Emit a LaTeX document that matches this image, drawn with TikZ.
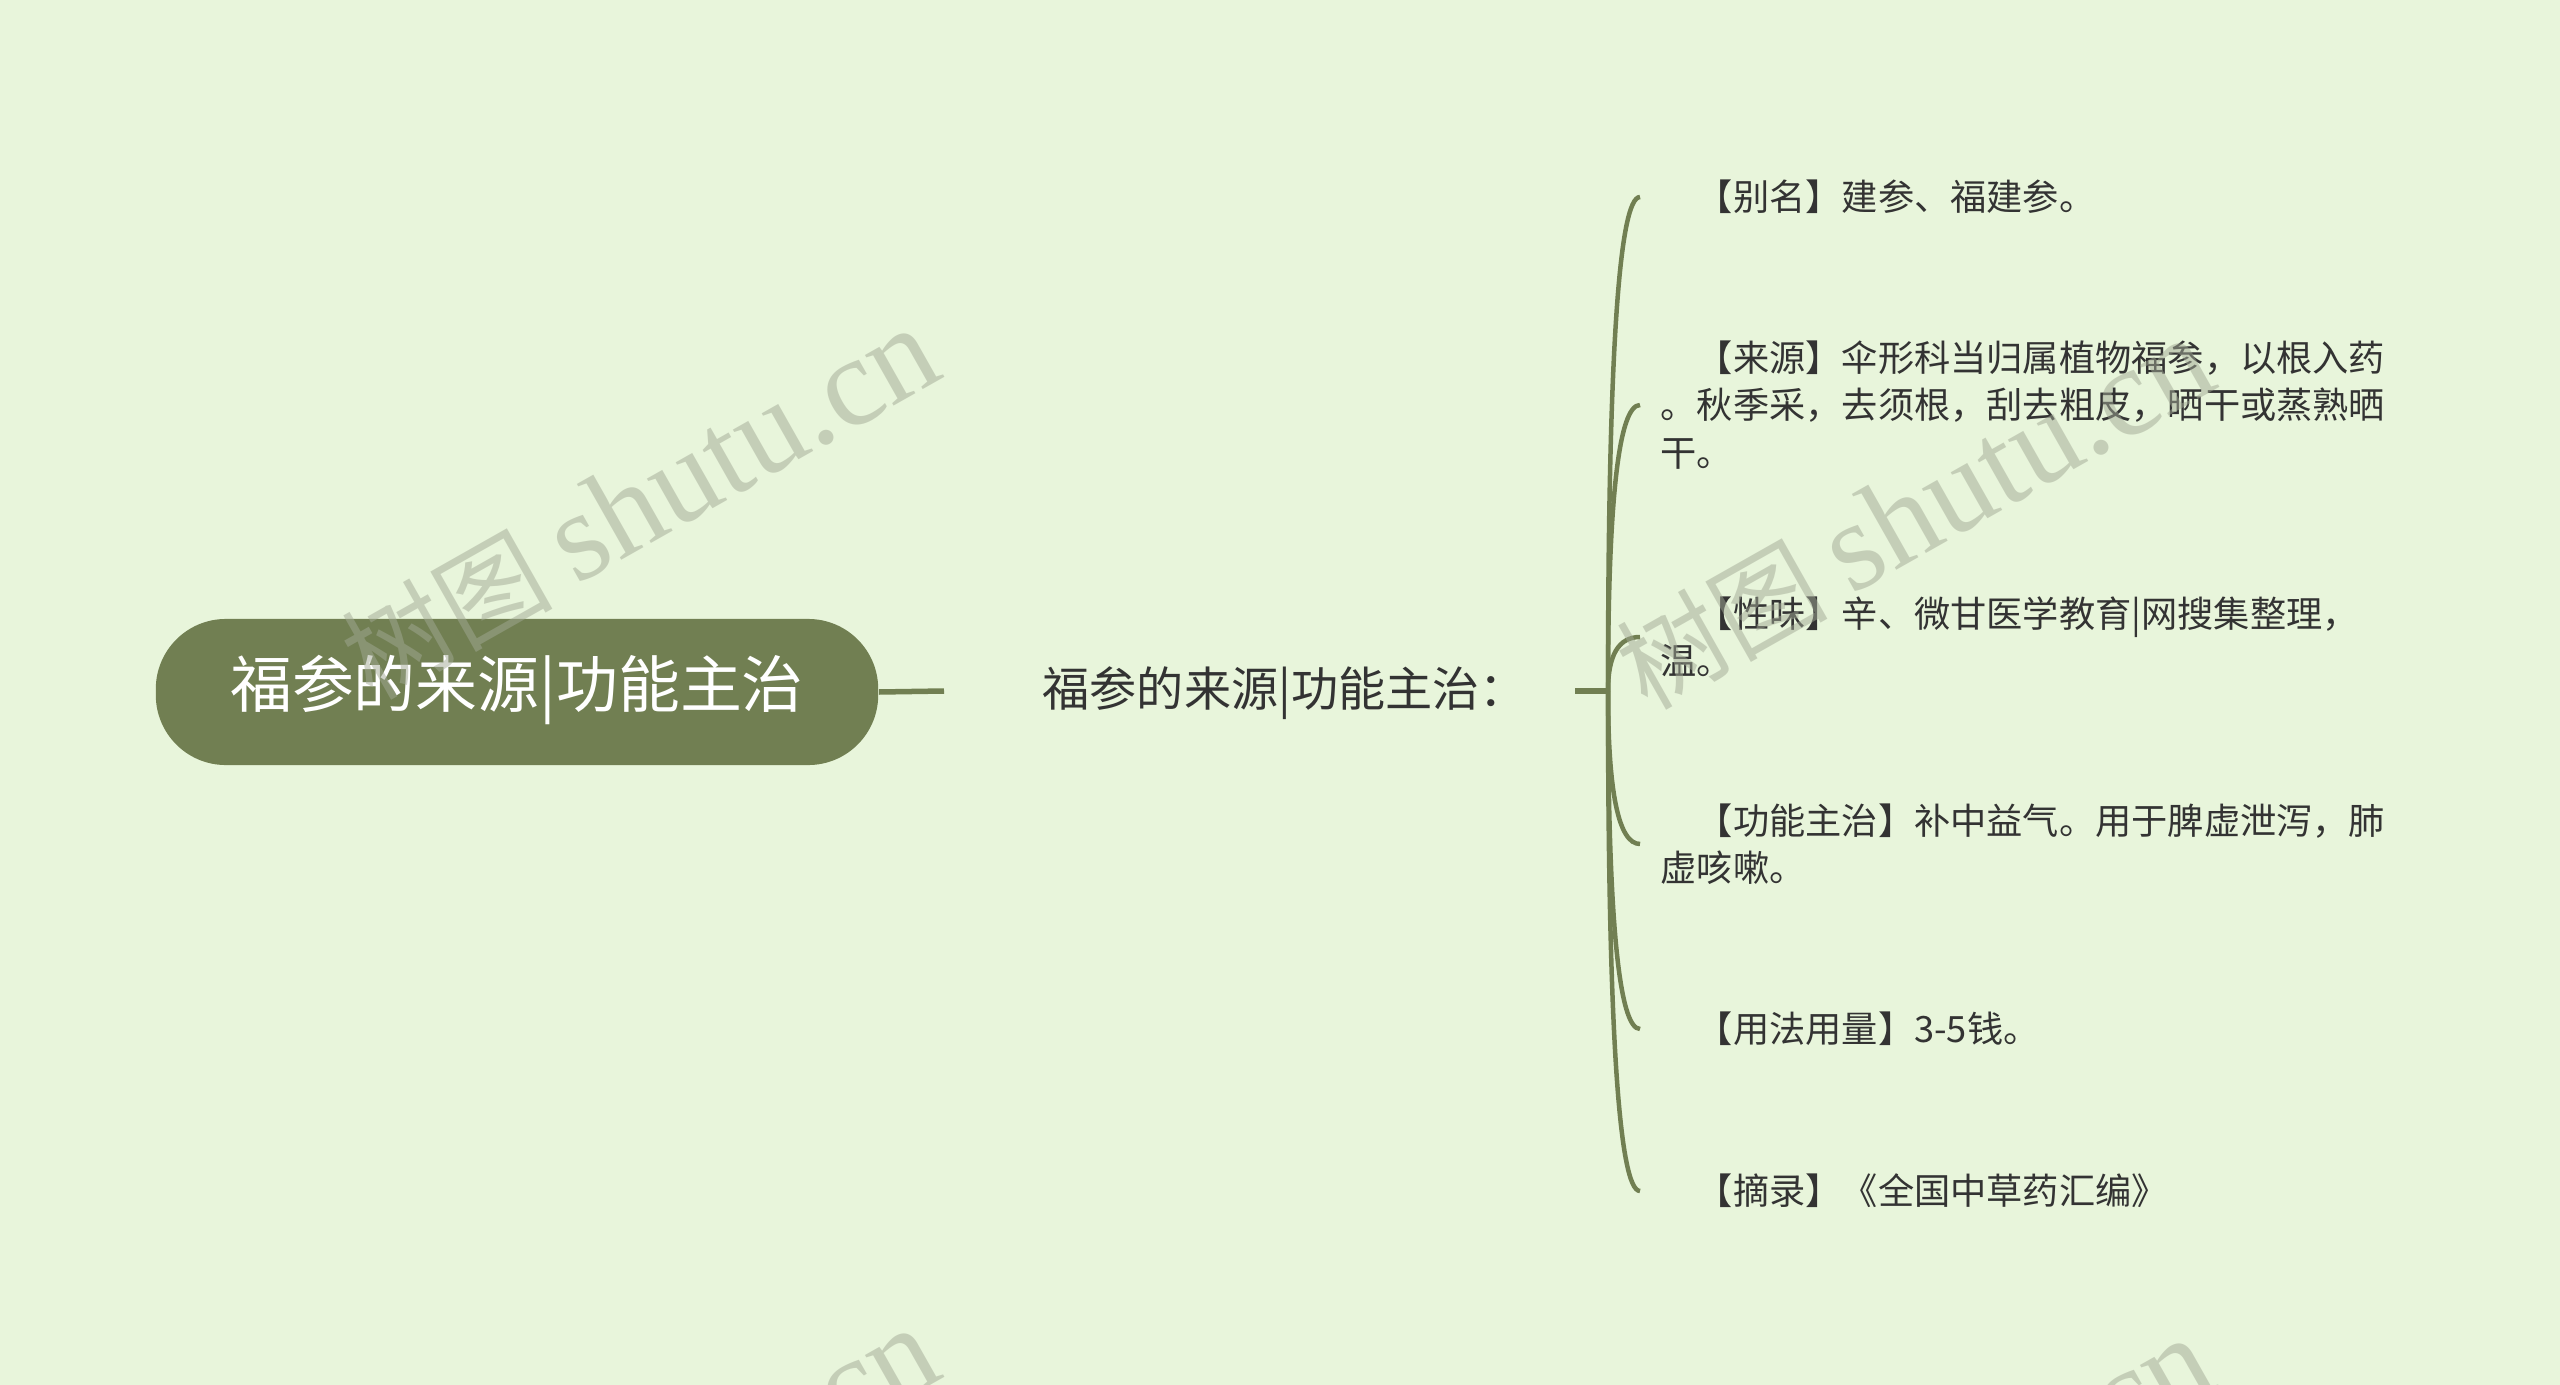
\documentclass[tikz,border=0pt]{standalone}
\usepackage{fontspec}
\newfontfamily\cjk{Noto Sans CJK SC}
\newfontfamily\wmlatin{Liberation Serif}
\usetikzlibrary{calc}
\definecolor{bgcol}{HTML}{E8F5DB}
\definecolor{olive}{HTML}{717F52}
\definecolor{inkcol}{HTML}{333333}
\definecolor{wmcol}{HTML}{A2A995}
\tikzset{%
    root/.style={fill=olive, rounded corners=0.7cm, minimum width=7.22cm,
    	minimum height=1.46cm, inner sep=0, text=white, text height=0.95em,
    	text depth=0.05em, font=\cjk\fontsize{17.6pt}{20pt}\selectfont},
    topic/.style={inner sep=0, anchor=west, text=inkcol, text height=0.95em,
    	text depth=0.05em, font=\cjk\fontsize{13.4pt}{16pt}\selectfont},
    leaf/.style={anchor=west, inner xsep=0.2cm, inner ysep=0, align=left,
    	text=inkcol, font=\cjk\fontsize{10.3pt}{13.4pt}\selectfont},
    branch/.style={draw=olive, line width=0.055cm},
    twig/.style={draw=olive, line width=0.045cm},
    watermark/.style={text=wmcol, opacity=.5, rotate=29.5, inner sep=0,
    	font=\cjk\fontsize{30pt}{32pt}\selectfont}
}

\begin{document}
\begin{tikzpicture}[x=0.01cm, y=-0.01cm]
  \fill[bgcol] (0,0) rectangle (2560,1385);
  \useasboundingbox (0,0) rectangle (2560,1385);

  % main topic and subtopic
  \node (root) [root] at (517,692) {福参的来源|功能主治};
  \node (topic) [topic] at (1042,691) {福参的来源|功能主治：};
  \coordinate (topicL) at (944,691);
  \coordinate (topicR) at (1575,691);
  \coordinate (hub) at (1608,691);

  % details
  \node (alias) [leaf] at (1640,197) {\hspace*{1em}【别名】建参、福建参。};
  \node (source) [leaf] at (1640,405) {\hspace*{1em}【来源】伞形科当归属植物福参，以根入药\\
  	。秋季采，去须根，刮去粗皮，晒干或蒸熟晒\\干。};
  \node (taste) [leaf] at (1640,637) {\hspace*{1em}【性味】辛、微甘医学教育|网搜集整理，\\温。};
  \node (effect) [leaf] at (1640,844) {\hspace*{1em}【功能主治】补中益气。用于脾虚泄泻，肺\\虚咳嗽。};
  \node (dosage) [leaf] at (1640,1029) {\hspace*{1em}【用法用量】3-5钱。};
  \node (excerpt) [leaf] at (1640,1191) {\hspace*{1em}【摘录】《全国中草药汇编》};

  \draw[branch] (root.east) -- (topicL);
  \draw[branch] (topicR) -- (hub);
  \foreach \leafname in {alias, source, taste, effect, dosage, excerpt}
    \draw[twig] (hub) .. controls ($(hub)!.667!(hub |- \leafname.west)$)
      and ($(\leafname.west)!.667!(hub |- \leafname.west)$) .. (\leafname.west);

  % site marks
  \foreach \dx/\dy [count=\i] in {0/0, 1275/10, 0/1000, 1275/1010}
    \node (wm\i) [watermark] at ({640+\dx},{504+\dy})
      {树图 {\wmlatin\fontsize{36pt}{38pt}\selectfont shutu.cn}};
\end{tikzpicture}
\end{document}
